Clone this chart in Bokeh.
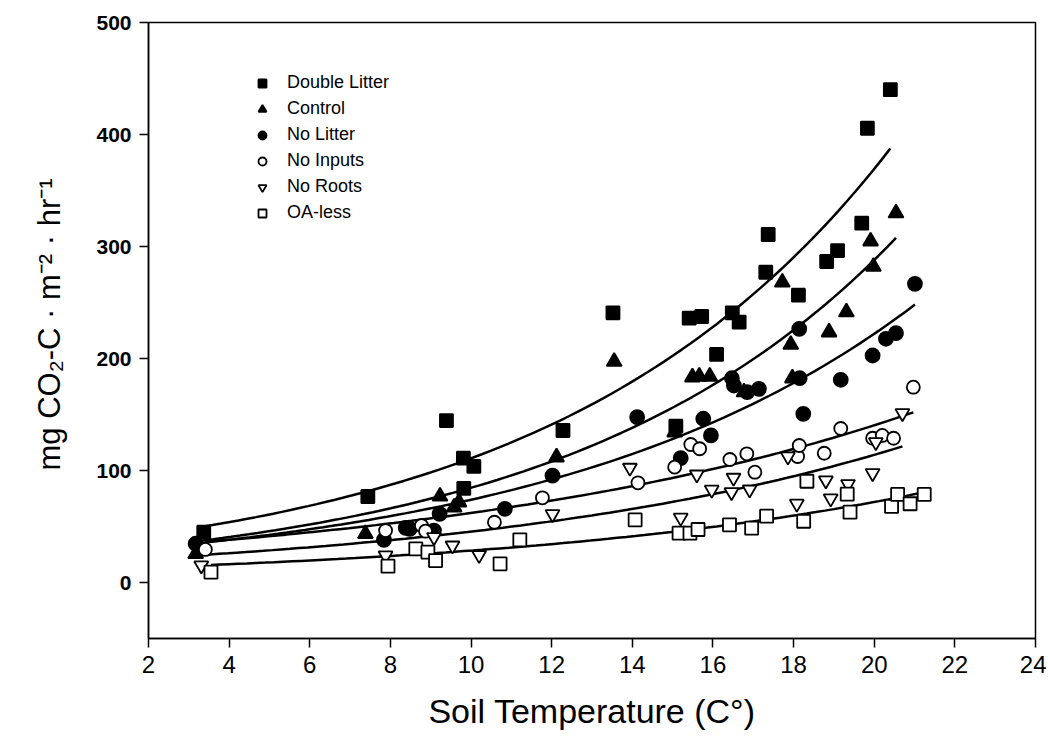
import numpy as np
from bokeh.plotting import figure
from bokeh.models import Range1d, Legend, LegendItem, Title, FixedTicker
from bokeh.embed import file_html
from bokeh.resources import INLINE

# ---------------- data ----------------
series_names = ["Double Litter", "Control", "No Litter", "No Inputs", "No Roots", "OA-less"]

dl_x = [3.37, 7.44, 9.39, 9.81, 9.82, 10.07, 12.28, 13.52, 15.08, 15.41, 15.72, 16.09, 16.48, 16.65,
        17.31, 17.37, 18.12, 18.82, 19.09, 19.69, 19.83, 20.40]
dl_y = [44.9, 76.8, 144.6, 111.0, 84.0, 103.6, 135.7, 240.8, 139.6, 236.0, 237.5, 203.6, 240.8, 232.4,
        277.0, 310.7, 256.5, 286.6, 296.4, 320.8, 405.6, 440.0]

ct_x = [3.17, 7.38, 9.23, 9.58, 9.70, 12.12, 13.55, 15.05, 15.49, 15.66, 15.92, 16.77, 17.72, 17.93,
        17.97, 18.88, 19.31, 19.91, 19.98, 20.54]
ct_y = [25.6, 43.5, 77.0, 67.2, 71.7, 111.9, 197.3, 134.2, 183.3, 184.0, 184.0, 170.0, 268.0, 212.5,
        182.4, 223.5, 241.4, 304.7, 282.1, 329.8]

nl_x = [3.17, 7.84, 8.38, 8.48, 9.08, 9.22, 10.84, 12.02, 14.12, 15.20, 15.76, 15.95, 16.47, 16.52,
        16.85, 17.14, 18.14, 18.15, 18.24, 19.17, 19.96, 20.29, 20.54, 21.01]
nl_y = [34.6, 38.1, 48.8, 47.9, 46.4, 61.3, 65.8, 95.5, 147.6, 111.0, 146.2, 131.3, 182.4, 175.9,
        170.0, 172.9, 226.5, 182.4, 150.6, 181.0, 202.7, 217.6, 222.6, 266.7]

ni_x = [3.41, 7.88, 8.77, 8.87, 10.58, 11.77, 14.14, 15.05, 15.45, 15.67, 16.42, 16.84, 17.04, 18.10,
        18.14, 18.76, 19.17, 19.96, 20.20, 20.48, 20.97]
ni_y = [29.5, 46.4, 50.9, 45.8, 53.8, 75.6, 89.0, 103.0, 123.2, 119.4, 109.8, 114.9, 98.5, 112.5,
        122.3, 115.4, 137.5, 128.8, 131.3, 128.8, 174.4]

nr_x = [3.31, 7.88, 9.08, 9.54, 10.20, 12.02, 13.94, 15.20, 15.60, 15.97, 16.46, 16.51, 16.91, 17.86,
        18.08, 18.80, 18.92, 19.35, 19.96, 20.04, 20.70]
nr_y = [15.2, 24.1, 40.5, 33.0, 24.5, 61.0, 102.4, 57.8, 96.4, 82.8, 80.6, 93.5, 83.0, 112.5,
        70.3, 91.1, 75.0, 87.8, 97.6, 125.3, 151.2]

oa_x = [3.55, 7.94, 8.63, 8.93, 9.12, 10.72, 11.21, 14.07, 15.16, 15.43, 15.63, 16.41, 16.96, 17.33,
        18.25, 18.33, 19.33, 19.40, 20.43, 20.58, 20.89, 21.24]
oa_y = [9.2, 14.6, 30.1, 27.1, 19.6, 16.7, 38.1, 56.0, 44.0, 44.0, 47.3, 51.5, 48.5, 59.2,
        54.7, 90.4, 78.9, 62.8, 67.9, 78.6, 70.3, 78.6]

# exponential fit curves y = a * exp(b * x), parameters estimated from the drawn curves
fit_a = [33.3, 24.85, 24.6, 27.5, 18.14, 11.3]
fit_b = [0.1203, 0.1225, 0.110, 0.0815, 0.0919, 0.0925]

x_ticks = [2, 4, 6, 8, 10, 12, 14, 16, 18, 20, 22, 24]
y_ticks = [0, 100, 200, 300, 400, 500]

xs = [dl_x, ct_x, nl_x, ni_x, nr_x, oa_x]
ys = [dl_y, ct_y, nl_y, ni_y, nr_y, oa_y]

markers = ["square", "triangle", "circle", "circle", "inverted_triangle", "square"]
fills = ["black", "black", "black", "white", "white", "white"]
sizes = [13, 15, 14, 13, 14, 13]

FONT = "Liberation Sans"

p = figure(width=1046, height=736, output_backend="svg", toolbar_location=None,
           x_range=Range1d(2, 24), y_range=Range1d(-50, 500),
           min_border_left=148, min_border_right=11, min_border_top=22, min_border_bottom=98)
p.grid.visible = False
p.outline_line_color = "black"
p.outline_line_width = 1.5
p.background_fill_color = "white"
p.border_fill_color = "white"

p.xaxis.ticker = FixedTicker(ticks=x_ticks)
p.yaxis.ticker = FixedTicker(ticks=y_ticks)
for ax in (p.xaxis, p.yaxis):
    ax.axis_line_color = "black"
    ax.axis_line_width = 1.5
    ax.major_tick_line_color = "black"
    ax.major_tick_line_width = 1.5
    ax.major_tick_out = 9
    ax.major_tick_in = 0
    ax.minor_tick_line_color = None
    ax.major_label_text_color = "black"
    ax.major_label_text_font = FONT

p.xaxis.major_label_text_font_size = "24px"
p.xaxis.major_label_standoff = 8
p.yaxis.major_label_text_font_size = "21px"
p.yaxis.major_label_text_font_style = "bold"
p.yaxis.major_label_standoff = 8

p.xaxis.axis_label = "Soil Temperature (C°)"
p.xaxis.axis_label_text_font = FONT
p.xaxis.axis_label_text_font_size = "34px"
p.xaxis.axis_label_text_font_style = "normal"
p.xaxis.axis_label_text_color = "black"
p.xaxis.axis_label_standoff = 16

# y-axis title, starting above the axis bottom like the reference
ytitle = Title(text="mg CO₂-C · m⁻² · hr⁻¹", align="left", offset=168,
               text_font=FONT, text_font_size="31px", text_font_style="normal",
               text_color="black", standoff=54)
p.add_layout(ytitle, "left")

# fitted curves
for i in range(6):
    cx = np.linspace(min(xs[i]), max(xs[i]), 80)
    cy = fit_a[i] * np.exp(fit_b[i] * cx)
    p.line(cx, cy, line_color="black", line_width=2.5)

items = []
for i in range(6):
    r = p.scatter(xs[i], ys[i], marker=markers[i], size=sizes[i], fill_color=fills[i],
                  line_color="black", line_width=1.8)
    items.append(LegendItem(label=series_names[i], renderers=[r]))

legend = Legend(items=items, location=(104, 415), orientation="vertical")
legend.background_fill_alpha = 0
legend.border_line_color = None
legend.label_text_font = FONT
legend.label_text_font_size = "18px"
legend.label_text_color = "black"
legend.glyph_width = 20
legend.glyph_height = 20
legend.label_height = 20
legend.spacing = 5
legend.padding = 0
legend.margin = 0
legend.label_standoff = 15
p.add_layout(legend)

open("out.html", "w").write(file_html(p, INLINE))
